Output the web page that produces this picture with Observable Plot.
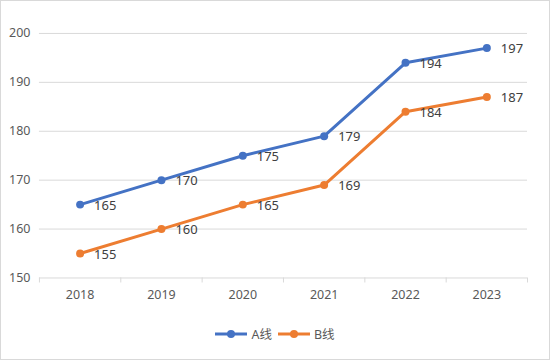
<!DOCTYPE html>
<html><head><meta charset="utf-8">
<script src="https://cdn.jsdelivr.net/npm/d3@7"></script>
<script src="https://cdn.jsdelivr.net/npm/@observablehq/plot@0.6"></script>
<style>
html,body{margin:0;padding:0;background:#fff;}
#frame{width:550px;height:360px;box-sizing:border-box;border:1px solid #d9d9d9;position:relative;overflow:hidden;font-family:"Noto Sans","Noto Sans CJK SC",sans-serif;}
#chart{position:absolute;left:-1px;top:-1px;}
#legend{position:absolute;left:0;right:0;top:323px;display:flex;justify-content:center;gap:6px;font-size:12.5px;color:#595959;}
.item{display:flex;align-items:center;gap:4px;}
</style></head>
<body><div id="frame"><div id="chart"></div><div id="legend"></div></div>
<script>
const years = ["2018","2019","2020","2021","2022","2023"];
const seriesA = [165,170,175,179,194,197];
const seriesB = [155,160,165,169,184,187];
const seriesNames = ["A线","B线"];
const colors = ["#4472C4","#ED7D31"];
const yTicks = [150,160,170,180,190,200];

const rows = [];
[seriesA, seriesB].forEach((vals, s) => vals.forEach((v, i) => rows.push({x: i + 0.5, y: v, series: seriesNames[s]})));
const centers = years.map((_, i) => i + 0.5);
const bounds = d3.range(years.length + 1);

const plot = Plot.plot({
  width: 550, height: 310,
  marginLeft: 39, marginRight: 22, marginTop: 33, marginBottom: 32,
  style: {fontFamily: '"Noto Sans","Noto Sans CJK SC",sans-serif', fontSize: "12.5px", color: "#595959"},
  x: {domain: [0, years.length]},
  y: {domain: [150, 200]},
  color: {domain: seriesNames, range: colors},
  marks: [
    Plot.gridY(yTicks.filter(t => t > 150), {stroke: "#d9d9d9", strokeOpacity: 1, strokeWidth: 1}),
    Plot.ruleY([150], {stroke: "#d9d9d9", strokeWidth: 1}),
    Plot.axisX(bounds, {tickSize: 5, tickFormat: () => "", stroke: "#d9d9d9", label: null}),
    Plot.axisX(centers, {tickSize: 0, tickPadding: 12, tickFormat: d => years[Math.floor(d)], fill: "#595959", label: null}),
    Plot.axisY(yTicks, {tickSize: 0, tickPadding: 9, fill: "#595959", label: null}),
    Plot.line(rows, {x: "x", y: "y", z: "series", stroke: "series", strokeWidth: 3}),
    Plot.dot(rows, {x: "x", y: "y", fill: "series", r: 4}),
    Plot.text(rows, {x: "x", y: "y", text: d => String(d.y), dx: 14, dy: 1, textAnchor: "start", fill: "#404040", fontSize: 13})
  ]
});
document.getElementById("chart").appendChild(plot);

const legend = document.getElementById("legend");
seriesNames.forEach((n, i) => {
  const item = document.createElement("div");
  item.className = "item";
  item.innerHTML = `<svg width="32" height="12"><line x1="0" x2="32" y1="6" y2="6" stroke="${colors[i]}" stroke-width="3"/><circle cx="16" cy="6" r="4" fill="${colors[i]}"/></svg><span>${n}</span>`;
  legend.appendChild(item);
});
</script></body></html>
